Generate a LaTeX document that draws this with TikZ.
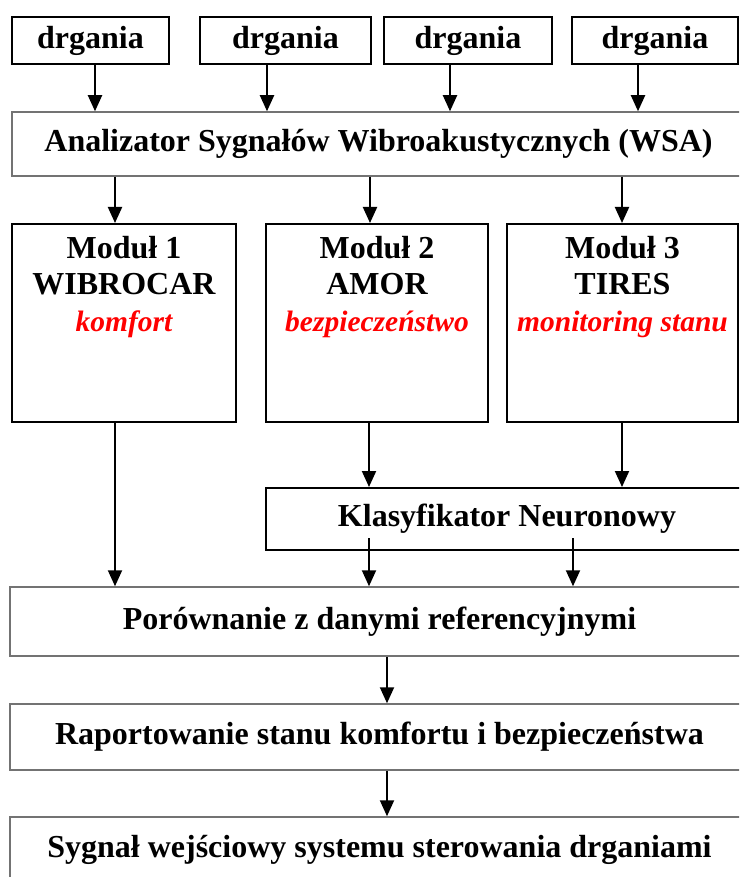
\documentclass[tikz,border=0pt]{standalone}
\usepackage{fontspec}
\setmainfont{Liberation Serif}
\usetikzlibrary{arrows.meta,positioning}

\newcommand\opis[1]{{\color{red}\itshape\fontsize{29.5}{36.5}\selectfont #1}}

\begin{document}
\begin{tikzpicture}[x=1pt,y=-1pt,
	box/.style={draw,line width=2pt,inner sep=0pt,font=\bfseries\fontsize{32}{36.5}\selectfont},
	wide/.style={draw=black!55,line width=1.5pt,inner sep=0pt,font=\bfseries\fontsize{32}{36.5}\selectfont},
	modtxt/.style={inner sep=0pt,align=center,font=\bfseries\fontsize{32}{36.5}\selectfont},
	arr/.style={line width=2pt,-{Triangle[length=16pt,width=14pt]}}]
	\useasboundingbox (0,0) rectangle (739,877);
	\clip (0,0) rectangle (739,877);

	% wejscia
	\foreach \n/\x/\w in {1/90.5/157,2/285.5/171,3/468/168,4/655/166}
		\node[box,minimum width=\w pt,minimum height=47pt] at (\x,40.5) (d\n) {drgania};
	\node[wide,minimum width=733pt,minimum height=64pt] at (378.5,144) (wsa) {Analizator Sygnałów Wibroakustycznych (WSA)};
	\foreach \n/\x in {1/95,2/267,3/450,4/638}
		\draw[arr] (\x,0 |- d\n.south) -- (\x,0 |- wsa.north);

	% moduly
	\node[box,minimum width=224pt,minimum height=198pt] at (124,323) (m1) {};
	\node[box,minimum width=222pt,minimum height=198pt] at (377,323) (m2) {};
	\node[box,minimum width=231pt,minimum height=198pt] at (622.5,323) (m3) {};
	\node[modtxt,below=13pt of m1.north] (t1) {Moduł 1\\WIBROCAR\\\opis{komfort}};
	\node[modtxt,below=13pt of m2.north] (t2) {Moduł 2\\AMOR\\\opis{bezpieczeństwo}};
	\node[modtxt,below=13pt of m3.north] (t3) {Moduł 3\\TIRES\\\opis{monitoring stanu}};
	\foreach \n/\x in {1/115,2/370,3/622}
		\draw[arr] (\x,0 |- wsa.south) -- (\x,0 |- m\n.north);

	% klasyfikator
	\node[box,minimum width=482pt,minimum height=62pt] at (507,519) (klas) {Klasyfikator Neuronowy};
	\draw[arr] (369,0 |- m2.south) -- (369,0 |- klas.north);
	\draw[arr] (622,0 |- m3.south) -- (622,0 |- klas.north);

	% dalej w dol
	\node[wide,minimum width=739pt,minimum height=69pt] at (379.5,621.5) (por) {Porównanie z danymi referencyjnymi};
	\coordinate (kl) at (369,538);
	\coordinate (kr) at (573,538);
	\draw[arr] (115,0 |- m1.south) -- (115,0 |- por.north);
	\draw[arr] (kl) -- (kl |- por.north);
	\draw[arr] (kr) -- (kr |- por.north);

	\node[wide,minimum width=739pt,minimum height=66pt] at (379.5,737) (rap) {Raportowanie stanu komfortu i bezpieczeństwa};
	\node[wide,minimum width=739pt,minimum height=66pt] at (379.5,850) (syg) {Sygnał wejściowy systemu sterowania drganiami};
	\draw[arr] (387,0 |- por.south) -- (387,0 |- rap.north);
	\draw[arr] (387,0 |- rap.south) -- (387,0 |- syg.north);
\end{tikzpicture}
\end{document}
